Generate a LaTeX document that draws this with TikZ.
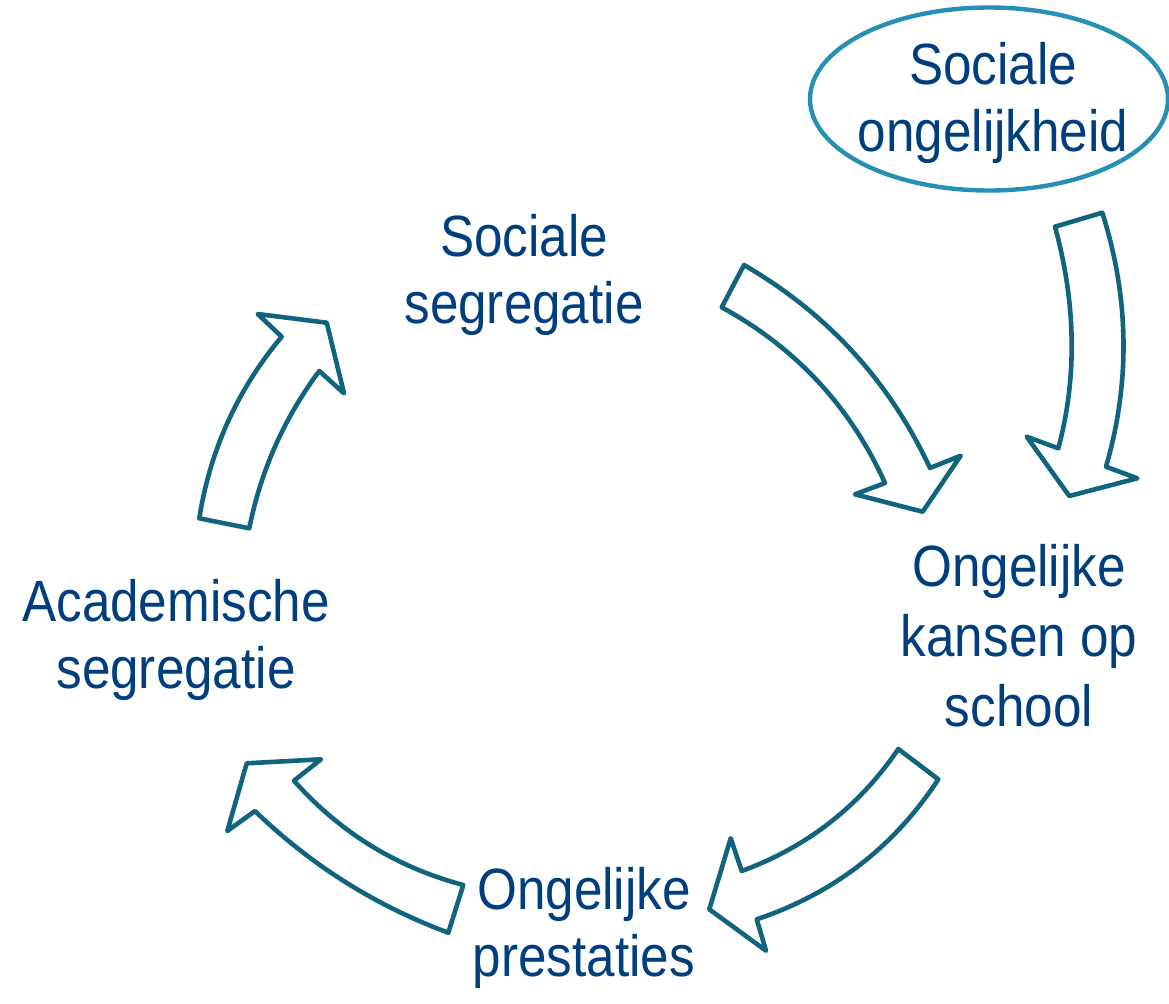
\documentclass[tikz,border=0pt]{standalone}
\usepackage{fontspec}
\setmainfont{Liberation Sans}[FakeStretch=0.88]
\definecolor{txtblue}{RGB}{0,62,126}
\definecolor{arrowteal}{RGB}{16,100,125}
\definecolor{ellblue}{RGB}{38,144,180}
\tikzset{
  lbl/.style={align=center, text=txtblue, inner sep=0pt, anchor=base,
    font=\fontsize{29.1pt}{33.5pt}\selectfont},
  blockarrow/.style={draw=arrowteal, line width=2.3pt, line join=round, fill=white},
  ellstyle/.style={draw=ellblue, line width=2.2pt},
}
\begin{document}
\begin{tikzpicture}[x=0.5pt,y=-0.5pt]
\useasboundingbox (0,0) rectangle (1169,1003);

% ellipse
\draw[ellstyle] (989,99) ellipse [x radius=179, y radius=91.5];

% labels (anchor = baseline of last line)
\node[lbl] (socong) at (993,151) {Sociale\\ongelijkheid};
\node[lbl] (socseg) at (524,323.3) {Sociale\\segregatie};
\node[lbl, font=\fontsize{29.1pt}{34.8pt}\selectfont] (kansen) at (1019,726) {Ongelijke\\kansen op\\school};
\node[lbl] (acad) at (176,688.3) {Academische\\segregatie};
\node[lbl] (prest) at (584,976.7) {Ongelijke\\prestaties};

% block arrows
\draw[blockarrow] (744,265) .. controls (827.3,313.3) and (889.3,381) .. (930,468)
  -- (960.7,455.7) -- (922.7,511.7) -- (855,494.3) -- (885,483)
  .. controls (850.1,406.2) and (795.7,347.6) .. (721.7,307.3) -- cycle;

\draw[blockarrow] (1102.3,212.7) .. controls (1129.3,297.8) and (1130.5,382.4) .. (1106,466.7)
  -- (1137.3,478.3) -- (1069.3,496) -- (1026.7,436.7) -- (1058.3,448.3)
  .. controls (1077.2,377.8) and (1076.1,303.9) .. (1055,226.7) -- cycle;

\draw[blockarrow] (938.3,779.3) .. controls (894,846.9) and (833.5,893.6) .. (756.7,919.3)
  -- (766,950.7) -- (709.3,909.3) -- (730.7,838.3) -- (741.7,871)
  .. controls (807,847.1) and (859.2,806.5) .. (898.3,749) -- cycle;

\draw[blockarrow] (448.3,932.7) .. controls (375.4,905.6) and (310.9,865.1) .. (255,811)
  -- (227.3,831) -- (246.7,763.3) -- (321,759.3) -- (294,780.7)
  .. controls (339.9,832.4) and (396.3,867.2) .. (463.3,885) -- cycle;

\draw[blockarrow] (249.3,528.3) .. controls (260.8,470.6) and (284.1,418.1) .. (319.3,371)
  -- (344,393.3) -- (326.7,322.7) -- (257.7,314) -- (281.7,336.7)
  .. controls (237.4,389.6) and (210,450.2) .. (199.3,518.3) -- cycle;
\end{tikzpicture}
\end{document}
